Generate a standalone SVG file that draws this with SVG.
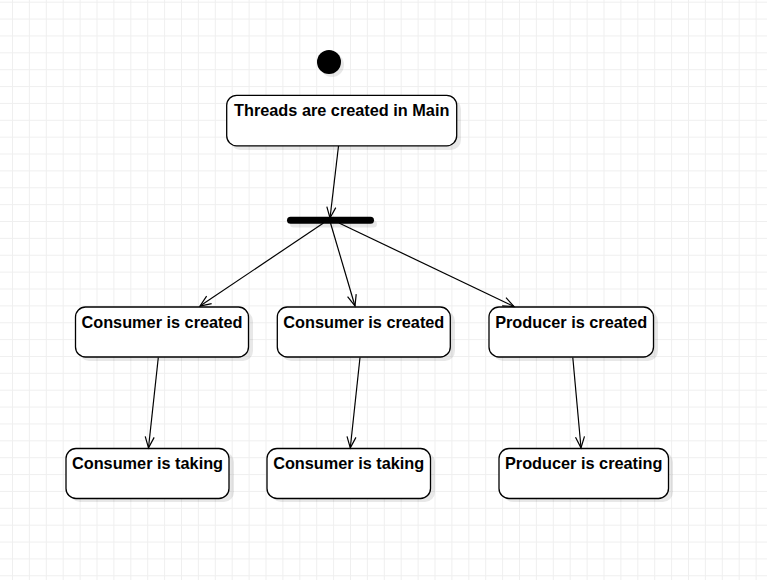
<svg xmlns="http://www.w3.org/2000/svg" width="767" height="580" viewBox="0 0 767 580">
  <defs>
    <pattern id="grid" patternUnits="userSpaceOnUse" x="12" y="1.7" width="16.9" height="16.87">
      <path d="M0.5,0 V16.87 M0,0.5 H16.9" stroke="#efefef" stroke-width="1" fill="none"/>
    </pattern>
    <marker id="arr" markerUnits="userSpaceOnUse" markerWidth="12" markerHeight="12" refX="11" refY="5" orient="auto" overflow="visible">
      <path d="M0,0.5 L11,5 L0,9.5" fill="none" stroke="#000" stroke-width="1.2"/>
    </marker>
  </defs>
  <style>
    .box { fill: #fff; stroke: #000; stroke-width: 1.3; }
    .shadow { fill: #000; opacity: 0.09; }
    .lbl { font-family: "Liberation Sans", Arial, sans-serif; font-weight: bold; font-size: 16.3px; fill: #000; text-anchor: middle; }
    .edge { stroke: #000; stroke-width: 1.2; fill: none; marker-end: url(#arr); }
  </style>
  <rect width="767" height="580" fill="#fff"/>
  <rect width="767" height="580" fill="url(#grid)"/>

  <g id="start">
    <circle class="shadow" cx="332" cy="65" r="12"/>
    <circle cx="329" cy="62" r="12" fill="#000"/>
  </g>

  <g id="threads">
    <rect class="shadow" x="230" y="99" width="231" height="51" rx="10"/>
    <rect class="box" x="226.7" y="95.3" width="230" height="50.5" rx="10"/>
    <text class="lbl" x="341.7" y="116">Threads are created in Main</text>
  </g>

  <g id="fork">
    <rect class="shadow" x="290" y="220.5" width="87" height="7" rx="3.5"/>
    <rect x="287" y="216.8" width="87" height="7" rx="3.5" fill="#000"/>
  </g>

  <g id="consumer1">
    <rect class="shadow" x="79" y="311" width="174" height="50" rx="10"/>
    <rect class="box" x="75.5" y="307" width="173" height="50" rx="10"/>
    <text class="lbl" x="162" y="328">Consumer is created</text>
  </g>

  <g id="consumer2">
    <rect class="shadow" x="281" y="311" width="174" height="50" rx="10"/>
    <rect class="box" x="277.3" y="307" width="173" height="50" rx="10"/>
    <text class="lbl" x="363.8" y="328">Consumer is created</text>
  </g>

  <g id="producer1">
    <rect class="shadow" x="493" y="311" width="165" height="50" rx="10"/>
    <rect class="box" x="489" y="307" width="164.5" height="50" rx="10"/>
    <text class="lbl" x="571.2" y="328">Producer is created</text>
  </g>

  <g id="taking1">
    <rect class="shadow" x="70" y="452" width="164" height="50" rx="10"/>
    <rect class="box" x="66" y="448.5" width="163" height="50" rx="10"/>
    <text class="lbl" x="147.5" y="469">Consumer is taking</text>
  </g>

  <g id="taking2">
    <rect class="shadow" x="271" y="452" width="164" height="50" rx="10"/>
    <rect class="box" x="267" y="448.5" width="163.5" height="50" rx="10"/>
    <text class="lbl" x="348.7" y="469">Consumer is taking</text>
  </g>

  <g id="creating">
    <rect class="shadow" x="503" y="452" width="170" height="50" rx="10"/>
    <rect class="box" x="499" y="448.5" width="169.5" height="50" rx="10"/>
    <text class="lbl" x="583.7" y="469">Producer is creating</text>
  </g>

  <g id="connectors">
    <path class="edge" d="M338.5,146 L330,218"/>
    <path class="edge" d="M323.5,223 L200,306"/>
    <path class="edge" d="M330.5,223 L355,306"/>
    <path class="edge" d="M339,223 L514,306.5"/>
    <path class="edge" d="M158.3,357.5 L148.5,447.8"/>
    <path class="edge" d="M360,357.5 L350.3,447.8"/>
    <path class="edge" d="M572.8,357.5 L581,447.8"/>
  </g>
</svg>
